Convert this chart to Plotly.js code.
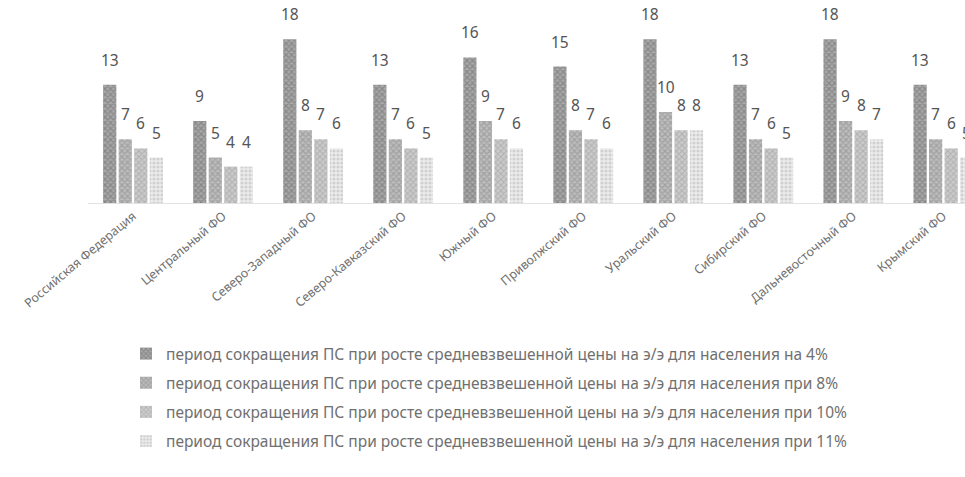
<!DOCTYPE html>
<html>
<head>
<meta charset="utf-8">
<script src="https://cdn.plot.ly/plotly-3.0.1.min.js"></script>
<style>html,body{margin:0;padding:0;background:#fff;}#chart{width:965px;height:477px;}</style>
</head>
<body>
<div id="chart"></div>
<script>
const categories = ["Российская Федерация","Центральный ФО","Северо-Западный ФО","Северо-Кавказский ФО","Южный ФО","Приволжский ФО","Уральский ФО","Сибирский ФО","Дальневосточный ФО","Крымский ФО"];
const seriesNames = [
  "период сокращения ПС при росте средневзвешенной цены на э/э для населения на 4%",
  "период сокращения ПС при росте средневзвешенной цены на э/э для населения при 8%",
  "период сокращения ПС при росте средневзвешенной цены на э/э для населения при 10%",
  "период сокращения ПС при росте средневзвешенной цены на э/э для населения при 11%"
];
const s4  = [13, 9, 18, 13, 16, 15, 18, 13, 18, 13];
const s8  = [7, 5, 8, 7, 9, 8, 10, 7, 9, 7];
const s10 = [6, 4, 7, 6, 7, 7, 8, 6, 8, 6];
const s11 = [5, 4, 6, 5, 6, 6, 8, 5, 7, 5];
const seriesValues = [s4, s8, s10, s11];

const styles = [
  {shape: "x", fg: "#666666", bg: "#a8a8a8", size: 4, sol: 0.5},
  {shape: "x", fg: "#838383", bg: "#bdbdbd", size: 4, sol: 0.5},
  {shape: "x", fg: "#969696", bg: "#cbcbcb", size: 4, sol: 0.45},
  {shape: ".", fg: "#b4b4b4", bg: "#ececec", size: 4, sol: 0.5}
];

const traces = seriesValues.map((vals, i) => ({
  type: "bar",
  name: seriesNames[i],
  x: categories,
  y: vals,
  legendgroup: "g" + i,
  marker: {
    color: styles[i].bg,
    line: {width: 0},
    pattern: {shape: styles[i].shape, fgcolor: styles[i].fg, bgcolor: styles[i].bg, size: styles[i].size, solidity: styles[i].sol, fillmode: "overlay"}
  },
  hoverinfo: "y"
}));

// value labels above bars
const bargap = 0.31, groupPx = 90;
const slotPx = groupPx * (1 - bargap) / seriesValues.length;
const annotations = [];
seriesValues.forEach((vals, i) => {
  vals.forEach((v, j) => {
    annotations.push({
      x: categories[j], y: v, xref: "x", yref: "y",
      text: String(v), showarrow: false,
      xanchor: "center", yanchor: "bottom",
      xshift: (i - (seriesValues.length - 1) / 2) * slotPx,
      yshift: 12,
      font: {family: "Noto Sans, Open Sans, sans-serif", size: 15.5, color: "#555"}
    });
  });
});

const layout = {
  width: 965, height: 477,
  paper_bgcolor: "#fff", plot_bgcolor: "#fff",
  margin: {l: 88, r: 0, t: 21, b: 274, autoexpand: false},
  barmode: "group",
  bargap: bargap,
  bargroupgap: 0.15,
  showlegend: true,
  legend: {
    xref: "paper", yref: "paper",
    x: (126 - 88) / 877, y: (203 - 337) / 182, xanchor: "left", yanchor: "top",
    orientation: "v",
    traceorder: "grouped",
    tracegroupgap: 6,
    font: {family: "Noto Sans, Open Sans, sans-serif", size: 15.5, color: "#707070"},
    itemwidth: 30
  },
  xaxis: {
    type: "category",
    range: [-0.5, 9.24],
    tickangle: -40,
    tickfont: {family: "Noto Sans, Open Sans, sans-serif", size: 12.5, color: "#707070"},
    showline: true, linecolor: "#e2e2e2", linewidth: 1,
    ticks: "", showgrid: false, zeroline: false
  },
  yaxis: {
    range: [0, 20],
    visible: false,
    showgrid: false, zeroline: false
  },
  annotations: annotations
};

Plotly.newPlot("chart", traces, layout, {displayModeBar: false, staticPlot: true});
</script>
</body>
</html>
